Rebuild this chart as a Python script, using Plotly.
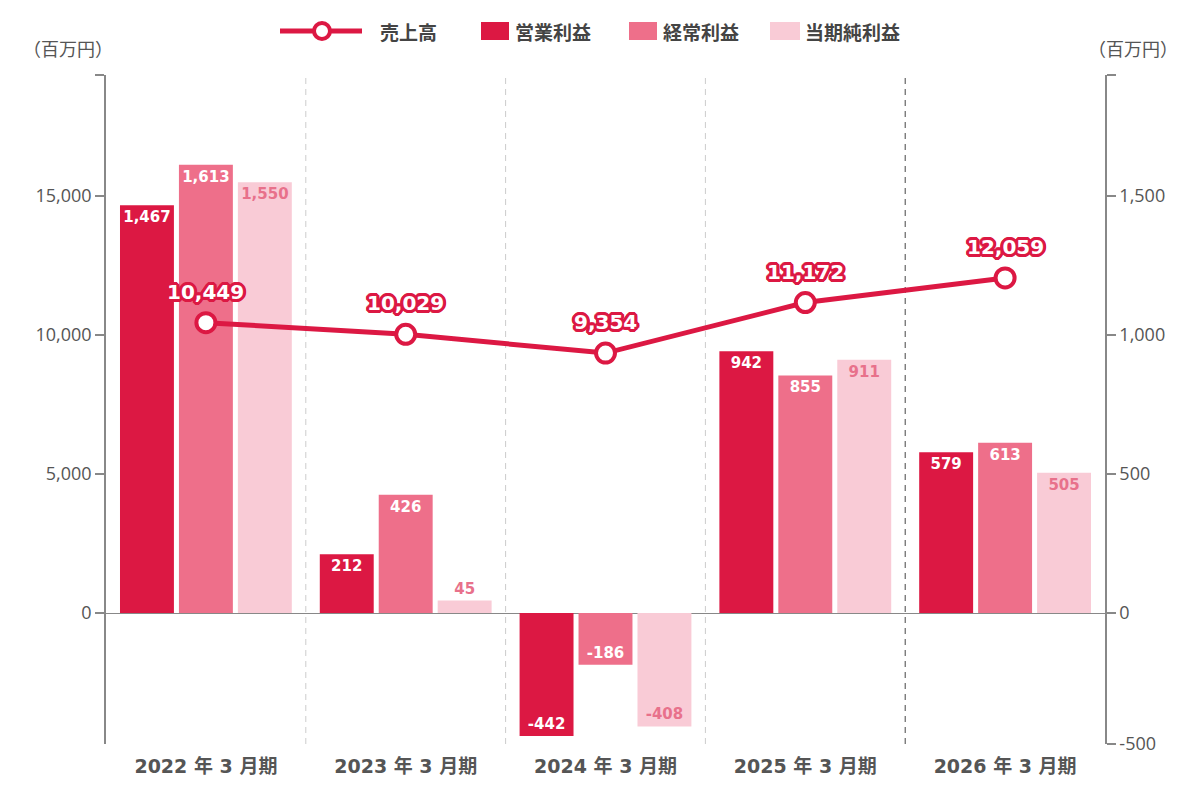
import plotly.graph_objects as go

categories = ["2022 年 3 月期", "2023 年 3 月期", "2024 年 3 月期", "2025 年 3 月期", "2026 年 3 月期"]
sales = [10449, 10029, 9354, 11172, 12059]          # 売上高 (left axis)
op_profit = [1467, 212, -442, 942, 579]             # 営業利益 (right axis)
ord_profit = [1613, 426, -186, 855, 613]            # 経常利益
net_profit = [1550, 45, -408, 911, 505]             # 当期純利益

left_ticks = [0, 5000, 10000, 15000]
right_ticks = [0, 500, 1000, 1500]

RED = "#DC1843"
PINK = "#EE6F8A"
LIGHT = "#F9CBD6"
LABEL_PINK = "#E8718B"
GRAY = "#888888"
TXT = "#555555"

W, H = 1187, 799
L, R, T, B = 106, 82, 75, 55
PW, PH = W - L - R, H - T - B

def px(x):
    return (x - L) / PW

def py(y):
    return (H - B - y) / PH

num_font = "DejaVu Sans, Liberation Sans, sans-serif"
jp_font = "DejaVu Sans, Noto Sans CJK JP, sans-serif"
tick_font = "Open Sans, Noto Sans, sans-serif"

fig = go.Figure()

def bar(vals, color, name, textcolor, positions):
    fig.add_trace(go.Bar(
        x=categories, y=vals, name=name, marker=dict(color=color, line=dict(width=0)),
        yaxis="y", text=[f"{v:,}" for v in vals], textposition=positions,
        insidetextanchor="end", textangle=0, cliponaxis=False,
        textfont=dict(family=num_font, size=15, color=textcolor, weight=700),
        constraintext="none", showlegend=False, hoverinfo="skip"))

bar(op_profit, RED, "営業利益", "white", ["inside"] * 5)
bar(ord_profit, PINK, "経常利益", "white", ["inside"] * 5)
bar(net_profit, LIGHT, "当期純利益", LABEL_PINK,
    ["outside" if abs(v) < 100 else "inside" for v in net_profit])

shadow = ", ".join(f"{dx}px {dy}px 0 {RED}" for dx, dy in
                   [(2, 0), (-2, 0), (0, 2), (0, -2), (2, 2), (-2, -2), (2, -2), (-2, 2),
                    (3, 0), (-3, 0), (0, 3), (0, -3), (3, 1), (-3, 1), (3, -1), (-3, -1),
                    (1, 3), (-1, 3), (1, -3), (-1, -3)])

fig.add_trace(go.Scatter(
    x=categories, y=sales, name="売上高", mode="lines+markers", yaxis="y2",
    line=dict(color=RED, width=5),
    marker=dict(size=19, color="white", line=dict(color=RED, width=4)),
    cliponaxis=False, showlegend=False, hoverinfo="skip"))

shapes = []
for i in range(1, len(categories)):
    shapes.append(dict(type="line", xref="x", yref="paper", x0=i - 0.5, x1=i - 0.5, y0=0, y1=1,
                       line=dict(color="#444444" if i == len(categories) - 1 else "#CCCCCC",
                                 width=1, dash="6px,5px"), layer="below"))

annotations = []
# sales value labels above the line points
for c, v in zip(categories, sales):
    annotations.append(dict(x=c, y=v, xref="x", yref="y2", text=f"{v:,}", showarrow=False,
                            yshift=31, xanchor="center", yanchor="middle",
                            font=dict(family=num_font, size=20, color="white", weight=700,
                                      shadow=shadow)))

# custom legend
ly = 31
shapes.append(dict(type="line", xref="paper", yref="paper", x0=px(280), x1=px(362), y0=py(ly), y1=py(ly),
                   line=dict(color=RED, width=5)))
r = 8
shapes.append(dict(type="circle", xref="paper", yref="paper", x0=px(322 - r), x1=px(322 + r),
                   y0=py(ly + r), y1=py(ly - r), fillcolor="white", line=dict(color=RED, width=4)))
legend_items = [("売上高", 378, None), ("営業利益", 513, (481, 509, RED)),
                ("経常利益", 661, (629, 657, PINK)), ("当期純利益", 803, (770, 800, LIGHT))]
for label, tx, sq in legend_items:
    if sq:
        shapes.append(dict(type="rect", xref="paper", yref="paper", x0=px(sq[0]), x1=px(sq[1]),
                           y0=py(ly + 9), y1=py(ly - 9), fillcolor=sq[2], line=dict(width=0)))
    annotations.append(dict(text=label, xref="paper", yref="paper", x=px(tx), y=py(ly),
                            xanchor="left", yanchor="middle", showarrow=False,
                            font=dict(family="Noto Sans CJK JP", size=19, color="#444444", weight=700)))

for cx in (68, 1133):
    annotations.append(dict(text="（百万円）", xref="paper", yref="paper", x=px(cx), y=py(48),
                            xanchor="center", yanchor="middle", showarrow=False,
                            font=dict(family="Noto Sans CJK JP", size=18, color=TXT)))

left_top = 19360
left_bot = -4712
right_top = left_top / 10
right_bot = left_bot / 10

fig.update_layout(
    width=W, height=H, margin=dict(l=L, r=R, t=T, b=B),
    paper_bgcolor="white", plot_bgcolor="white",
    barmode="group", bargap=0.115, bargroupgap=0.085,
    shapes=shapes, annotations=annotations, showlegend=False,
    xaxis=dict(type="category", showgrid=False, showline=False, ticks="",
               tickfont=dict(family=jp_font, size=19, color=TXT, weight=700),
               ticklabelstandoff=9),
    yaxis=dict(range=[right_bot, right_top], side="right", showgrid=False,
               zeroline=True, zerolinecolor=GRAY, zerolinewidth=1.2,
               showline=True, linecolor=GRAY, linewidth=1.5,
               tickvals=right_ticks + [right_top - 0.5, right_bot + 0.6],
               ticktext=[f"{v:,}" for v in right_ticks] + ["", "-500"],
               ticks="outside", ticklen=9, tickcolor=GRAY, tickwidth=1.5,
               tickfont=dict(family=tick_font, size=18, color=TXT)),
    yaxis2=dict(range=[left_bot, left_top], overlaying="y", side="left", showgrid=False,
                zeroline=False, showline=True, linecolor=GRAY, linewidth=1.5,
                tickvals=left_ticks + [left_top - 5], ticktext=[f"{v:,}" for v in left_ticks] + [""],
                ticks="outside", ticklen=9, tickcolor=GRAY, tickwidth=1.5,
                tickfont=dict(family=tick_font, size=18, color=TXT)),
)

fig.write_html("out.html")
